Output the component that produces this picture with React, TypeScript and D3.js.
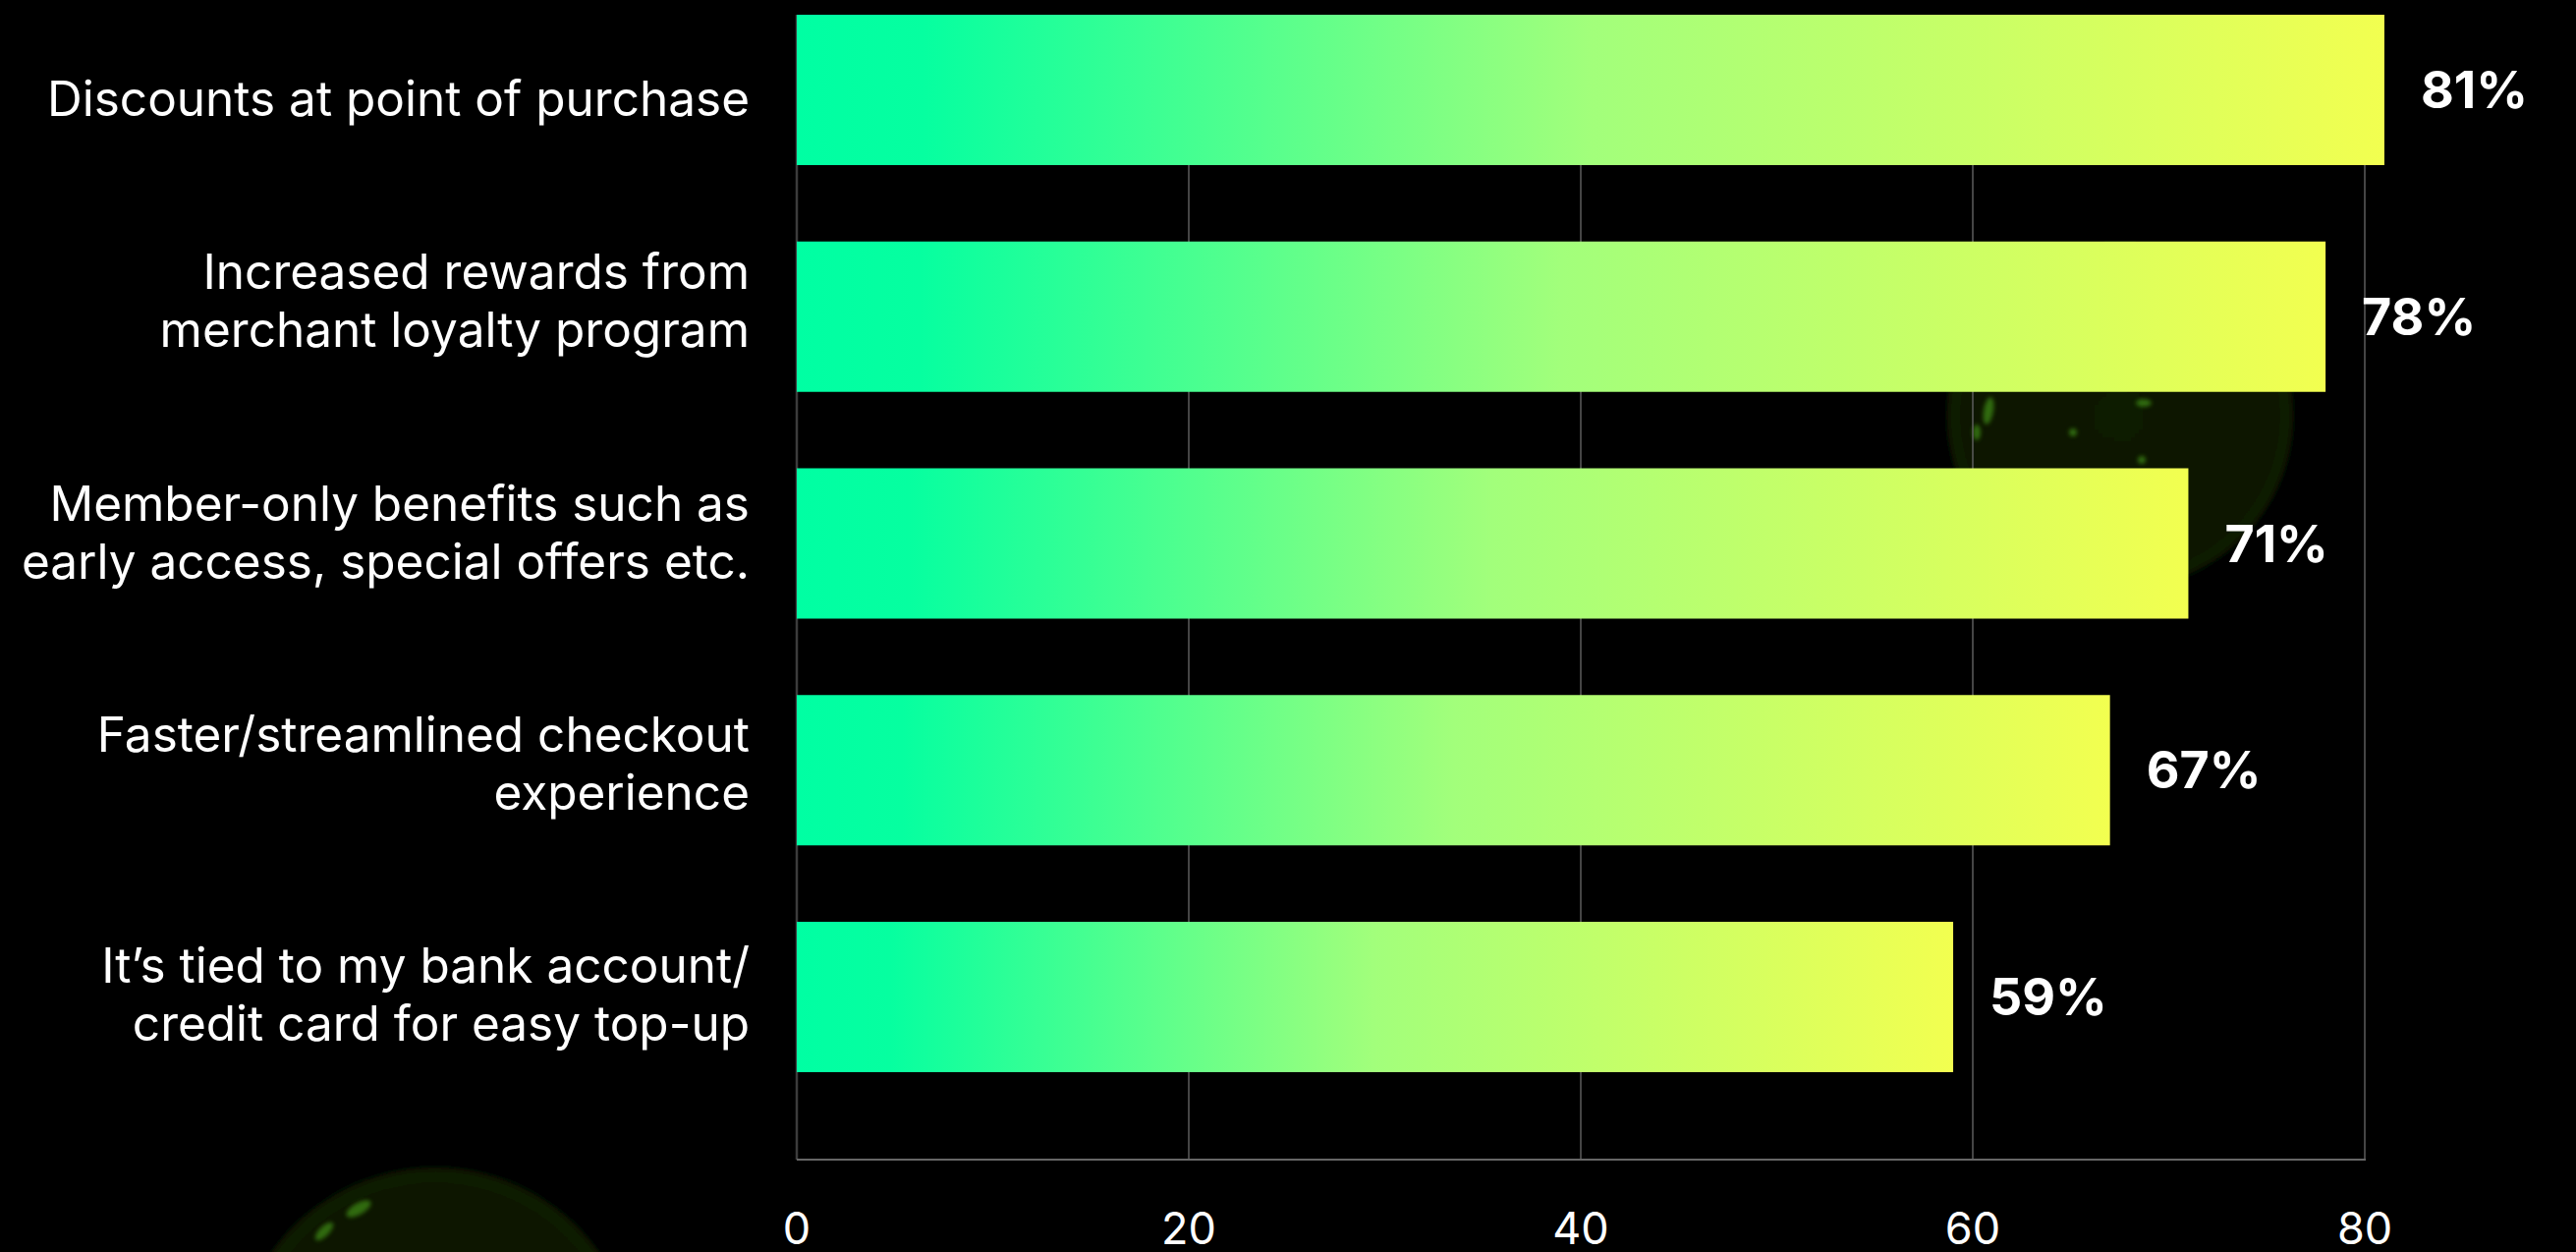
import React, { useEffect, useRef } from "react";
import * as d3 from "d3";

const categories = [
  "Discounts at point of purchase",
  "Increased rewards from merchant loyalty program",
  "Member-only benefits such as early access, special offers etc.",
  "Faster/streamlined checkout experience",
  "It’s tied to my bank account/ credit card for easy top-up",
];
const labelLines = [
  ["Discounts at point of purchase"],
  ["Increased rewards from", "merchant loyalty program"],
  ["Member-only benefits such as", "early access, special offers etc."],
  ["Faster/streamlined checkout", "experience"],
  ["It’s tied to my bank account/", "credit card for easy top-up"],
];
const values = [81, 78, 71, 67, 59];
const xTicks = [0, 20, 40, 60, 80];

const W = 2622;
const H = 1274;

export default function App() {
  const ref = useRef<SVGSVGElement | null>(null);

  useEffect(() => {
    const svg = d3.select(ref.current);
    svg.selectAll("*").remove();

    const x = d3.scaleLinear().domain([0, 80]).range([811, 2407]);
    const y = d3
      .scaleBand<string>()
      .domain(categories)
      .range([15, 1091])
      .paddingInner(0.337)
      .paddingOuter(0);
    const labelY = d3.scalePoint<string>().domain(categories).range([118, 1059]);
    const lineH = 59;
    const axisY = 1180;

    const defs = svg.append("defs");
    const grad = defs
      .append("linearGradient")
      .attr("id", "barGrad")
      .attr("x1", "0%")
      .attr("x2", "100%")
      .attr("y1", "0%")
      .attr("y2", "0%");
    grad.append("stop").attr("offset", "0%").attr("stop-color", "#00FFA3");
    grad.append("stop").attr("offset", "8%").attr("stop-color", "#06FFA0");
    grad.append("stop").attr("offset", "50%").attr("stop-color", "#A2FF7B");
    grad.append("stop").attr("offset", "100%").attr("stop-color", "#F2FF50");

    const blobGrad = defs.append("radialGradient").attr("id", "blobGrad");
    blobGrad.append("stop").attr("offset", "0%").attr("stop-color", "#111a00");
    blobGrad.append("stop").attr("offset", "90%").attr("stop-color", "#0e1800");
    blobGrad.append("stop").attr("offset", "98%").attr("stop-color", "#121e02");
    blobGrad.append("stop").attr("offset", "100%").attr("stop-color", "#000000");

    const blur = defs.append("filter").attr("id", "soft").attr("x", "-20%").attr("y", "-20%").attr("width", "140%").attr("height", "140%");
    blur.append("feGaussianBlur").attr("stdDeviation", 3);
    const blur2 = defs.append("filter").attr("id", "speck").attr("x", "-100%").attr("y", "-100%").attr("width", "300%").attr("height", "300%");
    blur2.append("feGaussianBlur").attr("stdDeviation", 2);

    svg.append("rect").attr("width", W).attr("height", H).attr("fill", "#000");

    // decorative glowing spheres
    const blobs = svg.append("g");
    blobs.append("circle").attr("cx", 443).attr("cy", 1392).attr("r", 205).attr("fill", "url(#blobGrad)").attr("filter", "url(#soft)");
    blobs.append("circle").attr("cx", 2158).attr("cy", 423).attr("r", 177).attr("fill", "url(#blobGrad)").attr("filter", "url(#soft)");
    const specks = [
      [365, 1230, 14, 6, -30],
      [330, 1253, 12, 5, -45],
      [2024, 418, 5, 14, 10],
      [2012, 440, 4, 8, 0],
      [2110, 440, 4, 4, 0],
      [2180, 468, 4, 4, 0],
      [2182, 410, 8, 4, 0],
    ];
    specks.forEach(([cx, cy, rx, ry, rot]) => {
      blobs
        .append("ellipse")
        .attr("cx", cx)
        .attr("cy", cy)
        .attr("rx", rx)
        .attr("ry", ry)
        .attr("transform", `rotate(${rot},${cx},${cy})`)
        .attr("fill", "#3f8f12")
        .attr("opacity", 0.7)
        .attr("filter", "url(#speck)");
    });

    // grid
    const grid = svg.append("g");
    grid
      .selectAll("line.g")
      .data(xTicks.filter((t) => t !== 0))
      .join("line")
      .attr("x1", (d) => x(d))
      .attr("x2", (d) => x(d))
      .attr("y1", 15)
      .attr("y2", axisY)
      .attr("stroke", "#5c5c5c")
      .attr("stroke-width", 1.5);
    grid
      .append("line")
      .attr("x1", x(0))
      .attr("x2", x(0))
      .attr("y1", 15)
      .attr("y2", axisY)
      .attr("stroke", "#3c3c3c")
      .attr("stroke-width", 2.5);
    grid
      .append("line")
      .attr("x1", x(0))
      .attr("x2", x(80) + 1)
      .attr("y1", axisY)
      .attr("y2", axisY)
      .attr("stroke", "#666")
      .attr("stroke-width", 2);

    // bars
    svg
      .append("g")
      .selectAll("rect")
      .data(categories)
      .join("rect")
      .attr("x", x(0))
      .attr("y", (d) => y(d) as number)
      .attr("width", (d, i) => x(values[i]) - x(0))
      .attr("height", y.bandwidth())
      .attr("fill", "url(#barGrad)");

    // value labels
    svg
      .append("g")
      .selectAll("text")
      .data(categories)
      .join("text")
      .attr("x", (d, i) => x(values[i]) + 37)
      .attr("y", (d) => (y(d) as number) + y.bandwidth() / 2)
      .attr("dy", "0.36em")
      .attr("fill", "#fff")
      .attr("font-family", "Inter, 'Noto Sans', sans-serif")
      .attr("font-weight", 700)
      .attr("font-size", 52)
      .text((d, i) => `${values[i]}%`);

    // category labels
    const lab = svg.append("g");
    categories.forEach((c, i) => {
      const lines = labelLines[i];
      const t = lab
        .append("text")
        .attr("text-anchor", "end")
        .attr("fill", "#fff")
        .attr("font-family", "Inter, 'Noto Sans', sans-serif")
        .attr("font-size", 49.5);
      lines.forEach((ln, j) => {
        t.append("tspan")
          .attr("x", 763)
          .attr("y", (labelY(c) as number) - (lines.length - 1 - j) * lineH)
          .text(ln);
      });
    });

    // x tick labels
    svg
      .append("g")
      .selectAll("text")
      .data(xTicks)
      .join("text")
      .attr("x", (d) => x(d))
      .attr("y", 1266)
      .attr("text-anchor", "middle")
      .attr("fill", "#fff")
      .attr("font-family", "Inter, 'Noto Sans', sans-serif")
      .attr("font-size", 45)
      .text((d) => String(d));
  }, []);

  return (
    <div style={{ position: "fixed", left: 0, top: 0, width: W, height: H, background: "#000" }}>
      <svg ref={ref} width={W} height={H} style={{ display: "block" }} />
    </div>
  );
}
